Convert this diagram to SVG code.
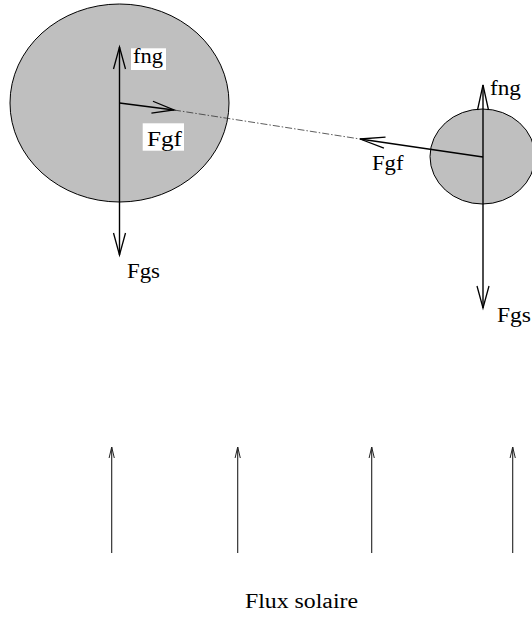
<svg xmlns="http://www.w3.org/2000/svg" width="532" height="617" viewBox="0 0 532 617">
<style>
.body{fill:#bfbfbf;stroke:#000;stroke-width:1}
.force{stroke:#000;stroke-width:1.4;fill:none}
.flux{stroke:#222;stroke-width:1.1;fill:none}
.dash{stroke:#333;stroke-width:0.8;stroke-dasharray:7 2 1.5 2;fill:none}
.lbl{font-family:"Liberation Serif","Times New Roman",serif;font-size:20px;fill:#000}
.box{fill:#fff}
</style>
<defs>
<marker id="big" markerUnits="userSpaceOnUse" viewBox="-1 -8 25 16" refX="22" refY="0" markerWidth="25" markerHeight="16" orient="auto-start-reverse" overflow="visible">
<path d="M0,-6 L22,0 L0,6" fill="none" stroke="#000" stroke-width="1.3"/>
</marker>
<marker id="mid" markerUnits="userSpaceOnUse" viewBox="-1 -8 27 16" refX="25" refY="0" markerWidth="27" markerHeight="16" orient="auto-start-reverse" overflow="visible">
<path d="M0,-5.5 L25,0 L0,5.5" fill="none" stroke="#000" stroke-width="1.3"/>
</marker>
<marker id="small" markerUnits="userSpaceOnUse" viewBox="-1 -4 13 8" refX="11" refY="0" markerWidth="13" markerHeight="8" orient="auto" overflow="visible">
<path d="M0,-2.6 L11,0 L0,2.6" fill="none" stroke="#222" stroke-width="1"/>
</marker>
</defs>
<g id="big-body">
<ellipse class="body" cx="119.5" cy="103" rx="109.5" ry="99"/>
<rect class="box" x="131" y="48.3" width="35" height="21.7"/>
<text class="lbl" x="133" y="62.5" textLength="30" lengthAdjust="spacingAndGlyphs">fng</text>
<rect class="box" x="142.7" y="123.3" width="41.3" height="27.4"/>
<text class="lbl" x="147" y="146" textLength="35" lengthAdjust="spacingAndGlyphs">Fgf</text>
<text class="lbl" x="127" y="277.7" textLength="33" lengthAdjust="spacingAndGlyphs">Fgs</text>
</g>
<g id="small-body">
<ellipse class="body" cx="482.5" cy="156.5" rx="52.5" ry="47.5"/>
<text class="lbl" x="490" y="95" textLength="31" lengthAdjust="spacingAndGlyphs">fng</text>
<text class="lbl" x="372" y="170" textLength="31.5" lengthAdjust="spacingAndGlyphs">Fgf</text>
<text class="lbl" x="497" y="322" textLength="34" lengthAdjust="spacingAndGlyphs">Fgs</text>
</g>
<g id="connectors">
<line class="dash" x1="174" y1="110" x2="360" y2="139"/>
<line class="force" x1="119.5" y1="47" x2="119.5" y2="255" marker-start="url(#big)" marker-end="url(#big)"/>
<line class="force" x1="119.5" y1="103" x2="174" y2="110" marker-end="url(#big)"/>
<line class="force" x1="483" y1="85" x2="483" y2="308" marker-start="url(#mid)" marker-end="url(#big)"/>
<line class="force" x1="483" y1="157" x2="360" y2="139" marker-end="url(#mid)"/>
<line class="flux" x1="111.7" y1="553" x2="111.7" y2="447" marker-end="url(#small)"/>
<line class="flux" x1="237.7" y1="553" x2="237.7" y2="447" marker-end="url(#small)"/>
<line class="flux" x1="371.7" y1="553" x2="371.7" y2="447" marker-end="url(#small)"/>
<line class="flux" x1="512.7" y1="553" x2="512.7" y2="447" marker-end="url(#small)"/>
</g>
<g id="flux-label">
<text class="lbl" x="245" y="607.7" textLength="113" lengthAdjust="spacingAndGlyphs">Flux solaire</text>
</g>
</svg>
